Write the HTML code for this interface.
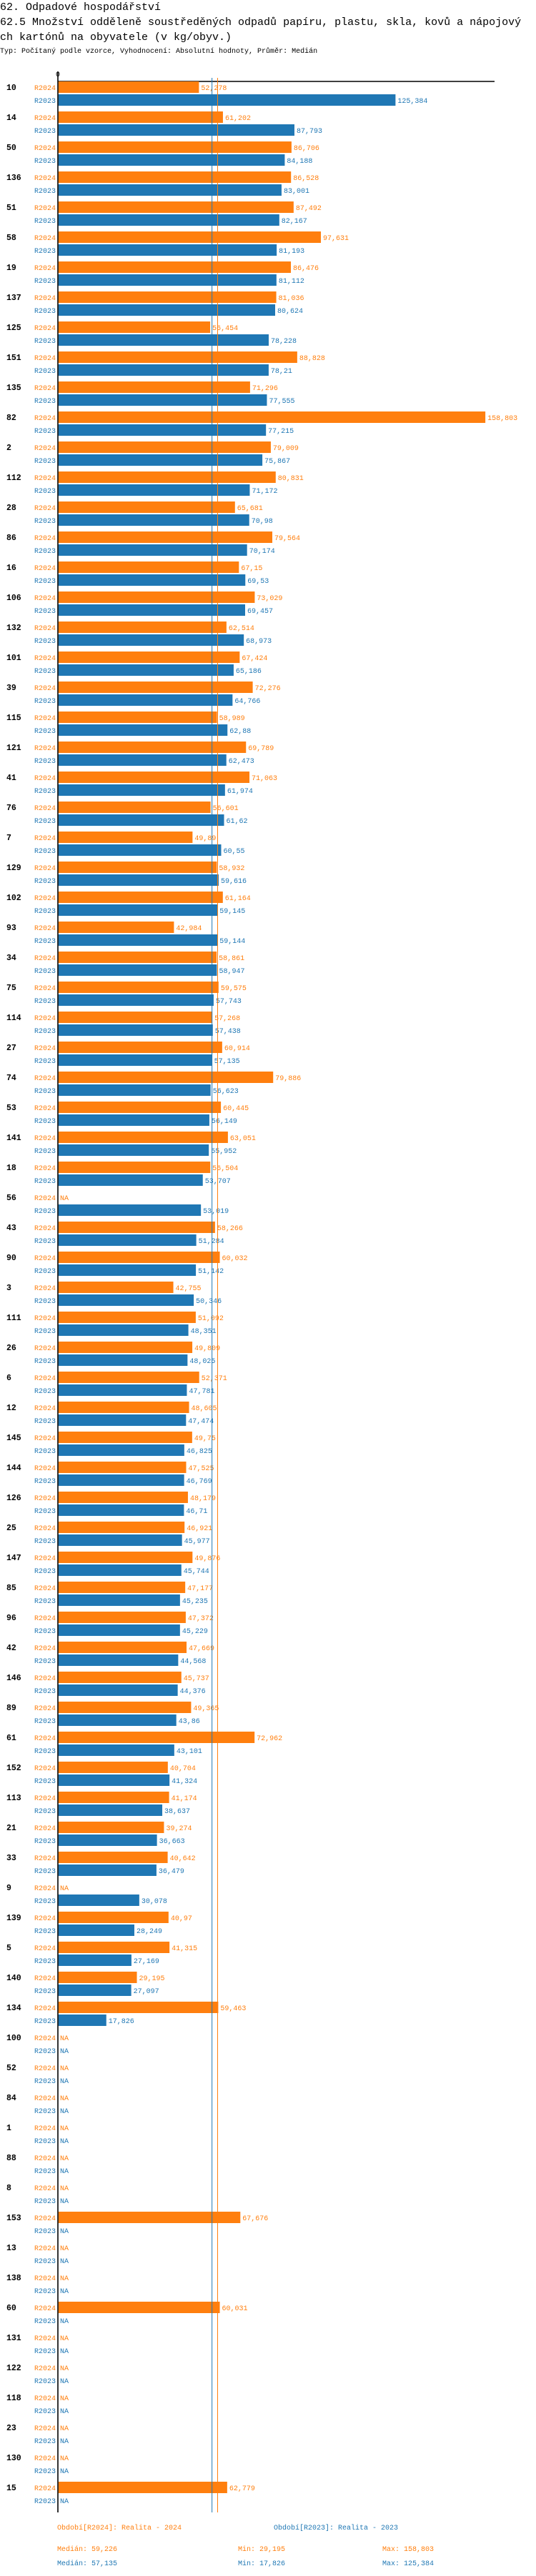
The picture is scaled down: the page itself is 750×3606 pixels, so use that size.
<!DOCTYPE html>
<html><head><meta charset="utf-8">
<style>
html,body{margin:0;padding:0;background:#fff;}
body{width:750px;height:3606px;overflow:hidden;font-family:"Liberation Mono",monospace;}
.t1{position:absolute;left:0;top:0;font-size:15px;line-height:21px;width:750px;}
.t2{position:absolute;left:0;top:21px;font-size:15px;line-height:21px;width:735px;word-break:break-all;}
.t3{position:absolute;left:0;top:66px;font-size:10px;line-height:14px;}
svg{position:absolute;left:0;top:0;}
</style></head>
<body>
<div class="t1">62. Odpadové hospodářství</div>
<div class="t2">62.5 Množství odděleně soustředěných odpadů papíru, plastu, skla, kovů a nápojových kartónů na obyvatele (v kg/obyv.)</div>
<div class="t3">Typ: Počítaný podle vzorce, Vyhodnocení: Absolutní hodnoty, Průměr: Medián</div>
<svg id="chart" width="750" height="3606" xmlns="http://www.w3.org/2000/svg"></svg>
<script>
const categories = ["10","14","50","136","51","58","19","137","125","151","135","82","2","112","28","86","16","106","132","101","39","115","121","41","76","7","129","102","93","34","75","114","27","74","53","141","18","56","43","90","3","111","26","6","12","145","144","126","25","147","85","96","42","146","89","61","152","113","21","33","9","139","5","140","134","100","52","84","1","88","8","153","13","138","60","131","122","118","23","130","15"];
const values2024 = [52.278,61.202,86.706,86.528,87.492,97.631,86.476,81.036,56.454,88.828,71.296,158.803,79.009,80.831,65.681,79.564,67.15,73.029,62.514,67.424,72.276,58.989,69.789,71.063,56.601,49.89,58.932,61.164,42.984,58.861,59.575,57.268,60.914,79.886,60.445,63.051,56.504,null,58.266,60.032,42.755,51.092,49.809,52.371,48.605,49.75,47.525,48.179,46.921,49.876,47.177,47.372,47.669,45.737,49.365,72.962,40.704,41.174,39.274,40.642,null,40.97,41.315,29.195,59.463,null,null,null,null,null,null,67.676,null,null,60.031,null,null,null,null,null,62.779];
const values2023 = [125.384,87.793,84.188,83.001,82.167,81.193,81.112,80.624,78.228,78.21,77.555,77.215,75.867,71.172,70.98,70.174,69.53,69.457,68.973,65.186,64.766,62.88,62.473,61.974,61.62,60.55,59.616,59.145,59.144,58.947,57.743,57.438,57.135,56.623,56.149,55.952,53.707,53.019,51.284,51.142,50.346,48.351,48.025,47.781,47.474,46.825,46.769,46.71,45.977,45.744,45.235,45.229,44.568,44.376,43.86,43.101,41.324,38.637,36.663,36.479,30.078,28.249,27.169,27.097,17.826,null,null,null,null,null,null,null,null,null,null,null,null,null,null,null,null];
const seriesNames = ["R2024","R2023"];
const medians = [59.226, 57.135];
const mins = [29.195, 17.826];
const maxs = [158.803, 125.384];
const legendTitles = ["Období[R2024]: Realita - 2024","Období[R2023]: Realita - 2023"];

const NS="http://www.w3.org/2000/svg";
const svg=document.getElementById('chart');
const colors=["#ff7f0e","#1f77b4"];
const x0=81.7, k=3.762;
const xs=v=>x0+v*k;
const y0=114, pitch=42, barH=16;
const yRow=(i,s)=>y0+i*pitch+s*18;
const fmt=v=>String(v).replace('.',',');
function mk(tag,attrs,txt){const e=document.createElementNS(NS,tag);for(const a in attrs)e.setAttribute(a,attrs[a]);if(txt!==undefined)e.textContent=txt;svg.appendChild(e);return e;}
const FM='"Liberation Mono",monospace';

let e;
e=mk('line',{x1:81,x2:692,y1:114,y2:114,stroke:'#000','stroke-width':1.5});


e=mk('text',{x:81,y:107,'font-size':10,'font-family':FM,'text-anchor':'middle',fill:'#000'},'0');



categories.forEach((c,i)=>{
  e=mk('text',{x:9,y:yRow(i,0)+12,'font-size':11.5,'font-weight':'bold','font-family':FM,fill:'#000'},c);
  
  
  [values2024,values2023].forEach((arr,s)=>{
    const v=arr[i], y=yRow(i,s);
    e=mk('text',{x:48,y:y+12,'font-size':10,'font-family':FM,fill:colors[s]},seriesNames[s]);
    
    
    if(v===null){
      e=mk('text',{x:84,y:y+12,'font-size':10,'font-family':FM,fill:colors[s]},'NA');
      
      
    } else {
      e=mk('rect',{x:x0,y:y,width:xs(v)-x0,height:barH,fill:colors[s]});
      
      
      e=mk('text',{x:xs(v)+3,y:y+12,'font-size':10,'font-family':FM,fill:colors[s]},fmt(v));
      
      
    }
  });
});

e=mk('line',{x1:xs(medians[1]),x2:xs(medians[1]),y1:109,y2:3517,stroke:colors[1],'stroke-width':1});


e=mk('line',{x1:xs(medians[0]),x2:xs(medians[0]),y1:109,y2:3517,stroke:colors[0],'stroke-width':1});


e=mk('line',{x1:81,x2:81,y1:100,y2:3517,stroke:'#000','stroke-width':1.6});



e=mk('text',{x:80,y:3541,'font-size':10,'font-family':FM,fill:colors[0]},legendTitles[0]);


e=mk('text',{x:383,y:3541,'font-size':10,'font-family':FM,fill:colors[1]},legendTitles[1]);


[0,1].forEach(s=>{
  const y=3571+s*20;
  e=mk('text',{x:80,y:y,'font-size':10,'font-family':FM,fill:colors[s]},'Medián: '+fmt(medians[s]));
  
  
  e=mk('text',{x:333,y:y,'font-size':10,'font-family':FM,fill:colors[s]},'Min: '+fmt(mins[s]));
  
  
  e=mk('text',{x:535,y:y,'font-size':10,'font-family':FM,fill:colors[s]},'Max: '+fmt(maxs[s]));
  
  
});
</script>
</body></html>
